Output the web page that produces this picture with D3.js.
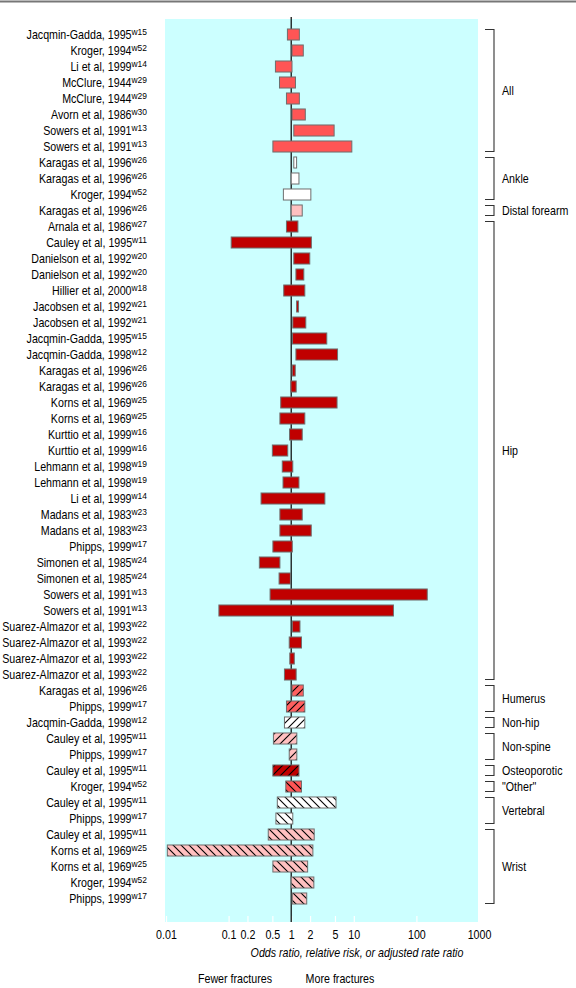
<!DOCTYPE html>
<html><head><meta charset="utf-8">
<script src="https://cdn.jsdelivr.net/npm/d3@7"></script>
<style>
html,body{margin:0;padding:0;background:#fff;}
svg{display:block;}
text{font-family:'Liberation Sans',Arial,sans-serif;}
</style></head>
<body><svg id="c" width="576" height="988"></svg>
<script>
const studies = [
"Jacqmin-Gadda, 1995","Kroger, 1994","Li et al, 1999","McClure, 1944","McClure, 1944","Avorn et al, 1986","Sowers et al, 1991","Sowers et al, 1991",
"Karagas et al, 1996","Karagas et al, 1996","Kroger, 1994",
"Karagas et al, 1996",
"Arnala et al, 1986","Cauley et al, 1995","Danielson et al, 1992","Danielson et al, 1992","Hillier et al, 2000","Jacobsen et al, 1992","Jacobsen et al, 1992","Jacqmin-Gadda, 1995","Jacqmin-Gadda, 1998","Karagas et al, 1996","Karagas et al, 1996","Korns et al, 1969","Korns et al, 1969","Kurttio et al, 1999","Kurttio et al, 1999","Lehmann et al, 1998","Lehmann et al, 1998","Li et al, 1999","Madans et al, 1983","Madans et al, 1983","Phipps, 1999","Simonen et al, 1985","Simonen et al, 1985","Sowers et al, 1991","Sowers et al, 1991","Suarez-Almazor et al, 1993","Suarez-Almazor et al, 1993","Suarez-Almazor et al, 1993","Suarez-Almazor et al, 1993",
"Karagas et al, 1996","Phipps, 1999",
"Jacqmin-Gadda, 1998",
"Cauley et al, 1995","Phipps, 1999",
"Cauley et al, 1995",
"Kroger, 1994",
"Cauley et al, 1995","Phipps, 1999",
"Cauley et al, 1995","Korns et al, 1969","Korns et al, 1969","Kroger, 1994","Phipps, 1999"];
const refs = ["w15","w52","w14","w29","w29","w30","w13","w13",
"w26","w26","w52","w26",
"w27","w11","w20","w20","w18","w21","w21","w15","w12","w26","w26","w25","w25","w16","w16","w19","w19","w14","w23","w23","w17","w24","w24","w13","w13","w22","w22","w22","w22",
"w26","w17","w12","w11","w17","w11","w52","w11","w17","w11","w25","w25","w52","w17"];
const lows = [0.87,1.03,0.56,0.65,0.84,1.03,1.1,0.51,
1.1,1.0,0.75,
1.0,
0.84,0.11,1.1,1.19,0.76,1.22,1.06,1.05,1.19,1.04,0.99,0.68,0.66,0.94,0.5,0.72,0.74,0.33,0.66,0.66,0.51,0.31,0.64,0.46,0.07,1.04,0.93,0.95,0.78,
1.03,0.84,
0.78,
0.52,0.93,
0.51,
0.82,
0.6,0.57,
0.43,0.0105,0.51,1.0,1.04];
const highs = [1.35,1.56,1.03,1.17,1.35,1.68,4.85,9.3,
1.22,1.33,2.06,
1.5,
1.28,2.1,1.98,1.59,1.65,1.31,1.71,3.7,5.5,1.16,1.2,5.4,1.65,1.5,0.88,1.06,1.33,3.45,1.5,2.09,1.04,0.66,0.97,149,43,1.38,1.46,1.12,1.2,
1.56,1.65,
1.65,
1.23,1.23,
1.33,
1.46,
5.2,1.06,
2.33,2.22,1.83,2.3,1.77];
const sites = ["All","Ankle","Distal forearm","Hip","Humerus","Non-hip","Non-spine","Osteoporotic","\"Other\"","Vertebral","Wrist"];
const siteSizes = [8,3,1,29,2,1,2,1,1,2,5];
const siteColors = ["#FF5555","#FFFFFF","#FFC0C0","#C00000","#FF5F5F","#FFFFFF","#FFC0C0","#C00000","#FF5555","#FFFFFF","#FFC0C0"];
const siteHatch = ["none","none","none","none","fwd","fwd","fwd","fwd","back","back","back"];
const tickValues = [0.01,0.1,0.2,0.5,1,2,5,10,100,1000];
const tickLabels = ["0.01","0.1","0.2","0.5","1","2","5","10","100","1000"];

const NARROW = 0.89;
const svg = d3.select("#c");
const rowSite = [];
siteSizes.forEach((n,i)=>{for(let k=0;k<n;k++) rowSite.push(i);});

const panel = {x0:165, x1:478, y0:19, y1:922};
const x = d3.scaleLog().domain([0.01,1000]).range([166,479]);
const y = d3.scaleBand().domain(d3.range(studies.length)).range([26.5, 26.5 + 16*studies.length]).paddingInner(0.31).paddingOuter(0.155);

function ntext(g, px, py, anchor){
  return g.append("text").attr("transform",`translate(${px},${py}) scale(${NARROW},1)`)
    .attr("text-anchor",anchor).attr("font-size",12).attr("fill","#000");
}

const defs = svg.append("defs");
const pf = defs.append("pattern").attr("id","fwd").attr("patternUnits","userSpaceOnUse").attr("width",8).attr("height",8);
pf.append("path").attr("d","M-2,2 L2,-2 M0,8 L8,0 M6,10 L10,6").attr("stroke","#000").attr("stroke-width",1.1);
const pb = defs.append("pattern").attr("id","back").attr("patternUnits","userSpaceOnUse").attr("width",8).attr("height",8);
pb.append("path").attr("d","M-2,6 L2,10 M0,0 L8,8 M6,-2 L10,2").attr("stroke","#000").attr("stroke-width",1.1);

// top rule
svg.append("line").attr("x1",0).attr("x2",576).attr("y1",1.5).attr("y2",1.5).attr("stroke","#777").attr("stroke-width",2);

// panel
svg.append("rect").attr("x",panel.x0).attr("y",panel.y0).attr("width",panel.x1-panel.x0).attr("height",panel.y1-panel.y0).attr("fill","#CCFFFF");

// axis (white ticks inside panel)
const axis = d3.axisBottom(x).tickValues(tickValues).tickFormat((d,i)=>tickLabels[i]).tickSize(-6).tickPadding(8);
const ag = svg.append("g").attr("transform",`translate(0,${panel.y1})`).call(axis);
ag.select(".domain").remove();
ag.selectAll(".tick line").attr("stroke","#fff").attr("stroke-width",1.2);
ag.selectAll(".tick text").attr("fill","#000").attr("font-size",12)
  .style("font-family","'Liberation Sans',Arial,sans-serif")
  .attr("transform",`scale(${NARROW},1)`);

// reference line
svg.append("line").attr("x1",x(1)).attr("x2",x(1)).attr("y1",17).attr("y2",panel.y1).attr("stroke","#000").attr("stroke-width",1.2);

// bars
const bars = svg.append("g");
studies.forEach((s,i)=>{
  const si = rowSite[i];
  const bx = x(lows[i]), bw = x(highs[i]) - x(lows[i]);
  bars.append("rect").attr("x",bx).attr("y",y(i)).attr("width",bw).attr("height",y.bandwidth())
    .attr("fill",siteColors[si]);
  if(siteHatch[si] !== "none"){
    bars.append("rect").attr("x",bx).attr("y",y(i)).attr("width",bw).attr("height",y.bandwidth())
      .attr("fill",`url(#${siteHatch[si]})`);
  }
  bars.append("rect").attr("x",bx).attr("y",y(i)).attr("width",bw).attr("height",y.bandwidth())
    .attr("fill","none").attr("stroke","#6e6e6e").attr("stroke-width",1);
});

// labels
const lab = svg.append("g");
studies.forEach((s,i)=>{
  const t = ntext(lab, 147, y(i)+y.bandwidth()/2, "end").attr("dy","0.36em");
  t.append("tspan").text(s);
  t.append("tspan").attr("font-size",9.5).attr("dy",-4).text(refs[i]);
});

// brackets
const bg = svg.append("g");
let start = 0;
siteSizes.forEach((n,gi)=>{
  const top = y(start) - (y.step()-y.bandwidth())/2 + 3;
  const bot = y(start+n-1) + y.bandwidth() + (y.step()-y.bandwidth())/2 - 3;
  bg.append("path").attr("d",`M485,${top}H494V${bot}H485`).attr("fill","none").attr("stroke","#333").attr("stroke-width",1.1);
  ntext(bg, 502, (top+bot)/2, "start").attr("dy","0.36em").text(sites[gi]);
  start += n;
});

// axis title and direction labels
ntext(svg, 357, 957, "middle").attr("font-style","italic").text("Odds ratio, relative risk, or adjusted rate ratio");
ntext(svg, 235, 983, "middle").text("Fewer fractures");
ntext(svg, 340, 983, "middle").text("More fractures");
</script></body></html>
